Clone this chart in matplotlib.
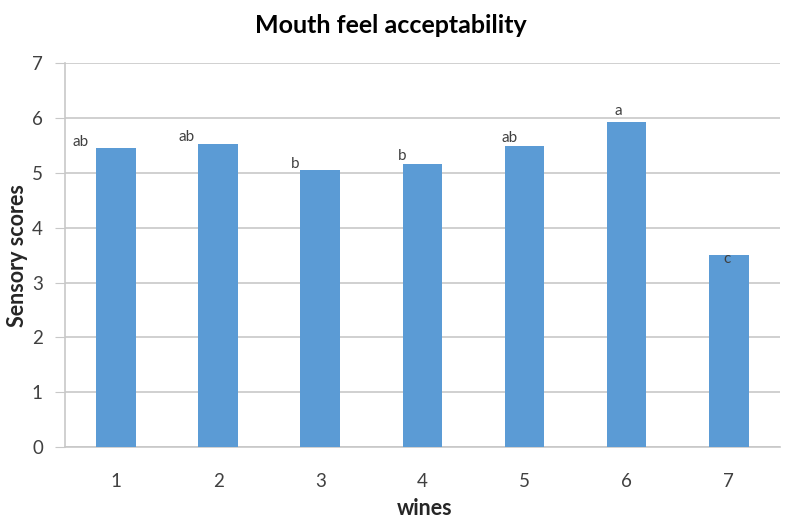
import matplotlib
matplotlib.use("Agg")
import matplotlib.pyplot as plt
import numpy as np

wines = ["1", "2", "3", "4", "5", "6", "7"]
scores = [5.46, 5.52, 5.05, 5.17, 5.48, 5.92, 3.51]
letters = ["ab", "ab", "b", "b", "ab", "a", "c"]
# label placement relative to each bar (x offset in categories, y in score units)
lab_dx = [-0.35, -0.31, -0.25, -0.2, -0.15, -0.08, -0.02]
lab_y = [5.57, 5.66, 5.17, 5.30, 5.63, 6.12, 3.42]

plt.rcParams['font.family'] = ['Lato', 'DejaVu Sans']

fig = plt.figure(figsize=(7.94, 5.26), dpi=100)
ax = fig.add_axes([0.082, 0.150, 0.900, 0.730])

x = np.arange(len(wines))
ax.bar(x, scores, width=0.39, color="#5B9BD5", zorder=3)

for i in range(len(wines)):
    ax.text(x[i] + lab_dx[i], lab_y[i], letters[i], ha="center", va="center",
            fontsize=11, color="#404040", zorder=4)

ax.set_xlim(-0.5, len(wines) - 0.5)
ax.set_ylim(0, 7)
ax.set_yticks(range(0, 8))
ax.set_xticks(x)
ax.set_xticklabels(wines)
ax.yaxis.grid(True, color="#C8C8C8", linewidth=1.2, zorder=0)
ax.tick_params(axis="y", length=7, color="#C8C8C8", labelsize=13.5, labelcolor="#404040", pad=9)
ax.tick_params(axis="x", length=0, labelsize=13.5, labelcolor="#404040", pad=19)

for s in ["top", "right"]:
    ax.spines[s].set_visible(False)
ax.spines["left"].set_color("#C8C8C8")
ax.spines["bottom"].set_color("#C8C8C8")
ax.spines["left"].set_linewidth(1.2)
ax.spines["bottom"].set_linewidth(1.2)

fig.text(0.492, 0.952, "Mouth feel acceptability", fontsize=18, fontweight="bold",
         color="black", ha="center", va="center")
ax.set_xlabel("wines", fontsize=15.5, fontweight="bold", color="#262626", va="center")
ax.xaxis.set_label_coords(0.503, -0.159)
ax.set_ylabel("Sensory scores", fontsize=15.5, fontweight="bold", color="#262626", va="center")
ax.yaxis.set_label_coords(-0.067, 0.498)

fig.savefig("out.png", dpi=100)
